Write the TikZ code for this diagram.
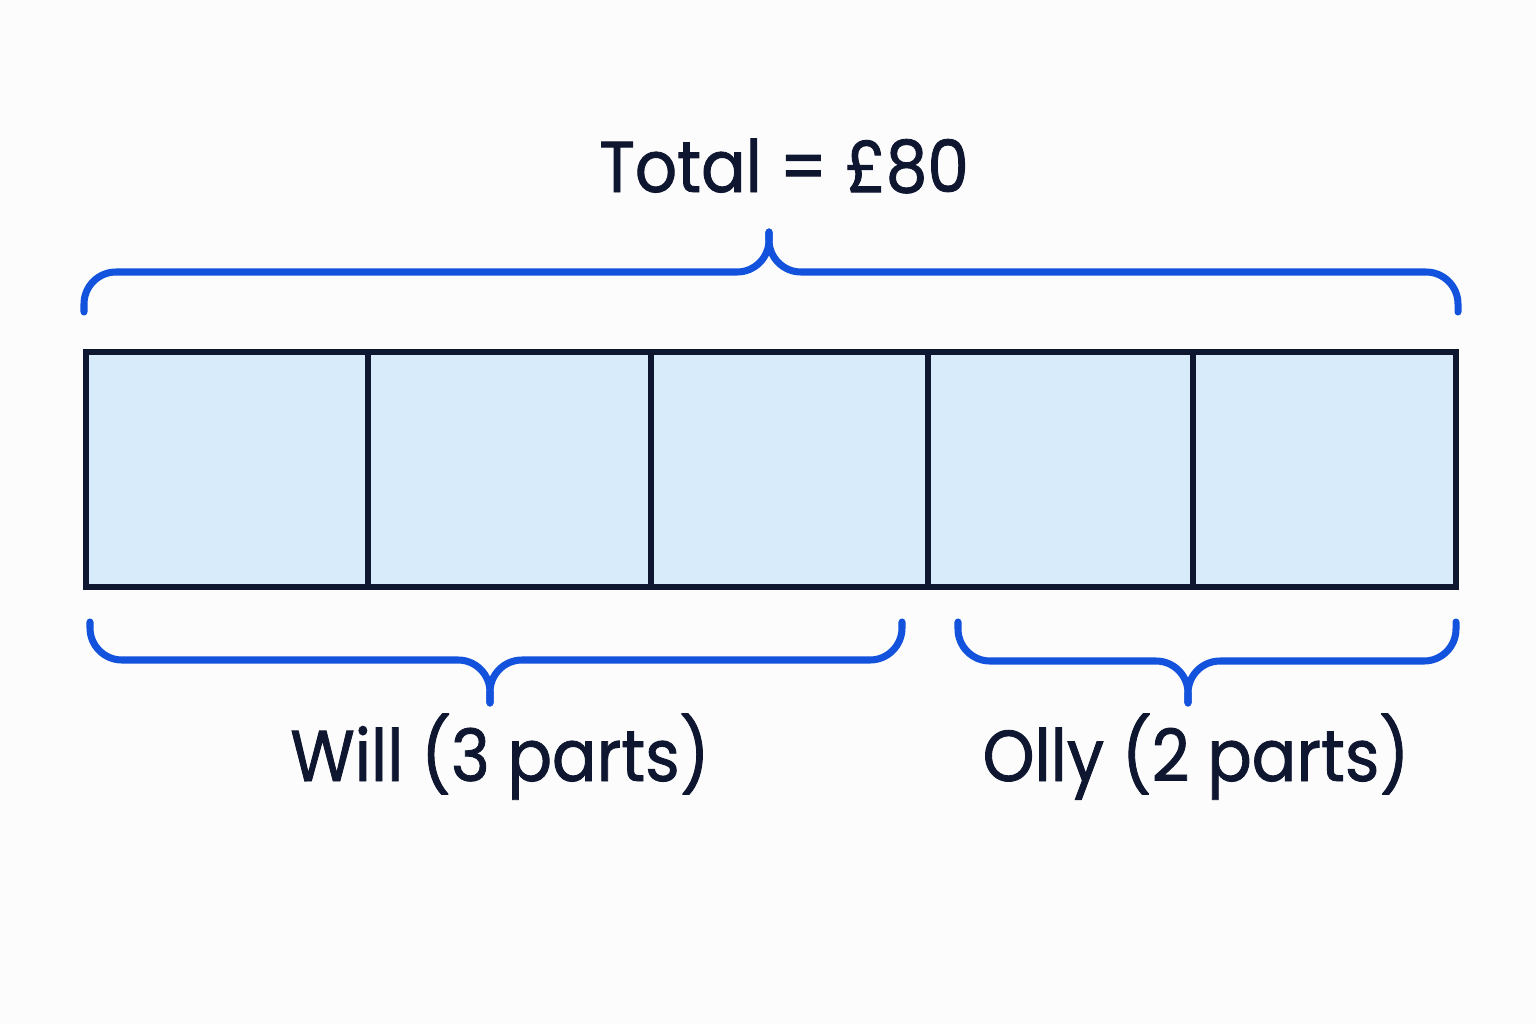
\documentclass[tikz,border=0pt]{standalone}
\usepackage{fontspec}
\setmainfont{Poppins}[FakeStretch=0.915, FakeBold=1.2]
\definecolor{cBrace}{RGB}{18,82,220}
\definecolor{cInk}{RGB}{14,22,48}
\definecolor{cPart}{RGB}{216,235,251}
\definecolor{cPaper}{RGB}{252,252,252}

\begin{document}
\begin{tikzpicture}[x=0.01cm, y=-0.01cm,
        brace/.style={draw=cBrace, line width=2pt, line cap=round, rounded corners=0.32cm},
        part/.style={draw=cInk, fill=cPart, line width=1.7pt},
        label/.style={text=cInk, font=\fontsize{20.5}{24}\selectfont, anchor=base, inner sep=0pt}]
        \fill[cPaper] (0,0) rectangle (1536,1024);
        \useasboundingbox (0,0) rectangle (1536,1024);

        % the bar, five equal parts
        \foreach \xa/\xb in {86/368, 368/651, 651/928, 928/1193, 1193/1456}
            \draw[part] (\xa,352) rectangle (\xb,587);

        % top brace
        \coordinate (topL) at (84,312);
        \coordinate (topR) at (1458,312);
        \coordinate (topTip) at (769,232);
        \draw[brace] (topL) |- (topTip |- 0,272) -- (topTip);
        \draw[brace] (topR) |- (topTip |- 0,272) -- (topTip);
        \node[label] (total) at (784,192) {Total = £80};

        % Will
        \coordinate (willL) at (90,622);
        \coordinate (willR) at (902,622);
        \coordinate (willTip) at (490,703);
        \draw[brace] (willL) |- (willTip |- 0,660) -- (willTip);
        \draw[brace] (willR) |- (willTip |- 0,660) -- (willTip);
        \node[label] (will) at (500,781) {Will (3 parts)};

        % Olly
        \coordinate (ollyL) at (958,622);
        \coordinate (ollyR) at (1456,622);
        \coordinate (ollyTip) at (1188,703);
        \draw[brace] (ollyL) |- (ollyTip |- 0,661) -- (ollyTip);
        \draw[brace] (ollyR) |- (ollyTip |- 0,661) -- (ollyTip);
        \node[label] (olly) at (1196,781) {Olly (2 parts)};
    \end{tikzpicture}
\end{document}
